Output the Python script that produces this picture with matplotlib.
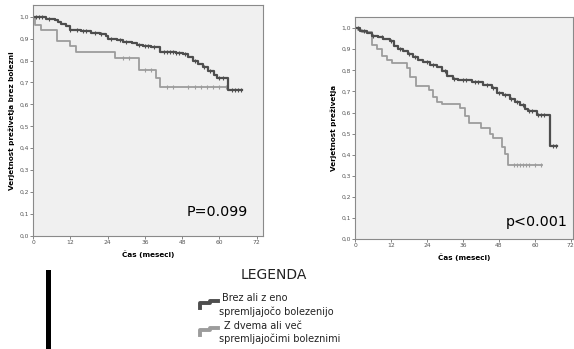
import numpy as np
import matplotlib
matplotlib.use('Agg')
import matplotlib.pyplot as plt

# ---- data ----
# left panel (disease-free survival)
left_dark_t = [0, 4.3, 7.0, 8.1, 9.1, 10.7, 11.8, 15.5, 18.8, 21.5, 23.4, 24.2, 26.9, 29.0, 31.7,
               33.3, 35.4, 38.0, 40.8, 46.0, 48.3, 49.9, 51.6, 53.2, 54.8, 56.4, 58.1, 59.1, 62.8, 67.1]
left_dark_s = [1.0, 0.99, 0.985, 0.975, 0.965, 0.955, 0.94, 0.935, 0.925, 0.92, 0.91, 0.90, 0.895, 0.885, 0.88,
               0.87, 0.866, 0.86, 0.84, 0.836, 0.83, 0.815, 0.80, 0.785, 0.77, 0.75, 0.735, 0.72, 0.665, 0.665]
left_dark_cens = [1, 2, 3, 5, 12, 14, 16, 17, 20, 22, 25, 28, 30, 34, 36, 37, 39, 42, 43, 44, 45, 46,
                  47, 49, 52, 55, 57, 60, 61, 64, 65, 66, 67]

left_light_t = [0, 0.5, 2.7, 7.7, 11.8, 13.7, 26.3, 34.2, 39.7, 40.8, 62.8]
left_light_s = [1.0, 0.96, 0.94, 0.89, 0.865, 0.84, 0.81, 0.755, 0.72, 0.68, 0.68]
left_light_cens = [29, 31, 36, 38, 43, 45, 50, 52, 54, 56, 58, 60, 62]

# right panel (overall survival)
right_dark_t = [0, 1.7, 3.9, 5.6, 7.8, 9.4, 11.7, 13.0, 14.4, 16.1, 17.8, 19.4, 21.1, 22.8, 25.0, 27.2,
                28.9, 30.6, 32.8, 34.4, 38.9, 42.8, 45.6, 47.2, 49.4, 51.7, 53.3, 55.0, 56.7, 57.8, 60.6,
                65.0, 67.2]
right_dark_s = [1.0, 0.985, 0.975, 0.965, 0.957, 0.948, 0.937, 0.916, 0.90, 0.89, 0.878, 0.863, 0.85,
                0.839, 0.826, 0.815, 0.795, 0.774, 0.76, 0.752, 0.747, 0.731, 0.716, 0.692, 0.681, 0.665,
                0.652, 0.637, 0.618, 0.608, 0.589, 0.44, 0.44]
right_dark_cens = [1, 3, 6, 9, 12, 15, 18, 20, 24, 26, 30, 33, 36, 37, 40, 41, 44, 46, 48, 50, 52, 54,
                   56, 58, 59, 61, 62, 63, 66, 67]

right_light_t = [0, 1.1, 2.2, 5.7, 7.5, 9.0, 10.6, 12.2, 17.2, 18.5, 20.5, 24.7, 26.0, 27.5, 28.9,
                 35.0, 36.7, 38.0, 42.0, 45.0, 46.1, 48.9, 50.0, 51.1, 62.2]
right_light_s = [1.0, 0.99, 0.98, 0.92, 0.90, 0.87, 0.85, 0.835, 0.81, 0.77, 0.725, 0.705, 0.675, 0.65,
                 0.64, 0.62, 0.585, 0.55, 0.525, 0.50, 0.48, 0.435, 0.405, 0.35, 0.35]
right_light_cens = [53, 54, 55, 56, 57, 58, 60, 62]

x_ticks = [0, 12, 24, 36, 48, 60, 72]
y_ticks = [0.0, 0.1, 0.2, 0.3, 0.4, 0.5, 0.6, 0.7, 0.8, 0.9, 1.0]
y_ticklabels = ['%.1f' % v for v in y_ticks]
y_ticklabels = [s.replace('.', ',') for s in y_ticklabels]

dark = '#4e4e4e'
light = '#9c9c9c'
bg = '#f0f0f0'


def step_val(t, s, x):
    idx = np.searchsorted(t, x, side='right') - 1
    return np.array(s)[idx]


def km_axes(ax, curves, ylabel, xmax):
    ax.set_facecolor(bg)
    for t, s, cens, col, lw in curves:
        ax.step(t, s, where='post', color=col, lw=lw)
        ax.plot(cens, step_val(t, s, cens), ls='none', marker='|', ms=2.5, mew=0.8, color=col)
    ax.set_xlim(0, xmax)
    ax.set_ylim(0, 1.053)
    ax.set_xticks(x_ticks)
    ax.set_xticklabels([str(v) for v in x_ticks])
    ax.set_yticks(y_ticks)
    ax.set_yticklabels(y_ticklabels)
    ax.tick_params(labelsize=4.3, length=2, width=0.5, pad=1, colors='#555555')
    for sp in ax.spines.values():
        sp.set_color('#8a8a8a')
        sp.set_linewidth(0.8)
    ax.set_xlabel('Čas (meseci)', fontsize=5.2, fontweight='bold', labelpad=4)
    ax.set_ylabel(ylabel, fontsize=5.2, fontweight='bold', labelpad=3)


fig = plt.figure(figsize=(5.74, 3.49), dpi=100)

ax1 = fig.add_axes([33 / 574, 1 - 236 / 349, 230 / 574, 231 / 349])
km_axes(ax1, [(left_light_t, left_light_s, left_light_cens, light, 1.3),
              (left_dark_t, left_dark_s, left_dark_cens, dark, 1.6)],
        'Verjetnost preživetja brez bolezni', 74)
ax1.text(0.67, 0.105, 'P=0.099', transform=ax1.transAxes, fontsize=10.3, va='center')

ax2 = fig.add_axes([355 / 574, 1 - 239 / 349, 218 / 574, 222 / 349])
km_axes(ax2, [(right_light_t, right_light_s, right_light_cens, light, 1.3),
              (right_dark_t, right_dark_s, right_dark_cens, dark, 1.6)],
        'Verjetnost preživetja', 72.7)
ax2.text(0.69, 0.077, 'p<0.001', transform=ax2.transAxes, fontsize=10.3, va='center')

# legend drawn in pixel space
lg = fig.add_axes([0, 0, 1, 1], zorder=-1)
lg.set_xlim(0, 574)
lg.set_ylim(349, 0)
lg.axis('off')
lg.add_patch(plt.Rectangle((46, 270), 5, 79, color='black', lw=0))
lg.text(274, 275, 'LEGENDA', ha='center', va='center', fontsize=10, color='#222222')
lg.plot([200, 200, 210, 210, 218], [308, 303, 303, 301, 301], color=dark, lw=2.8)
lg.plot([200, 200, 210, 210, 218], [335, 330, 330, 328, 328], color=light, lw=2.8)
lg.text(222, 298, 'Brez ali z eno', va='center', fontsize=7, color='#222222')
lg.text(219, 312, 'spremljajočo bolezenijo', va='center', fontsize=7, color='#222222')
lg.text(224, 326, 'Z dvema ali več', va='center', fontsize=7, color='#222222')
lg.text(219, 339, 'spremljajočimi boleznimi', va='center', fontsize=7, color='#222222')

fig.savefig('out.png', dpi=100)
